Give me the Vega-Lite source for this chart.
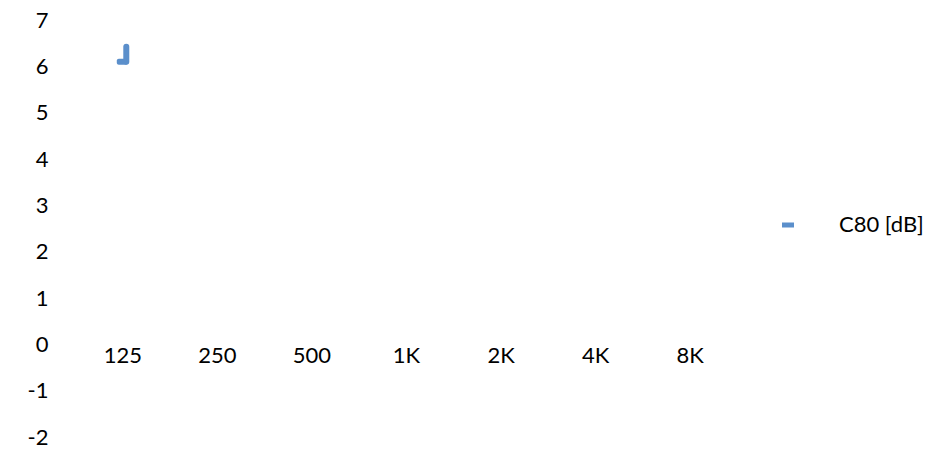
{
  "$schema": "https://vega.github.io/schema/vega-lite/v6.json",
  "width": 662,
  "height": 417,
  "autosize": {"type": "none"},
  "padding": {"left": 75, "top": 20, "right": 200, "bottom": 17},
  "background": "white",
  "config": {
    "view": {"stroke": null},
    "font": "Lato",
    "axis": {"labelFont": "Lato", "labelFontSize": 22, "labelColor": "#000000", "domain": false, "ticks": false, "grid": false, "title": null}
  },
  "data": {"values": [{"freq": "125", "c80": 6.1, "c80_top": 6.42, "series": "C80 [dB]"}]},
  "layer": [
    {
      "mark": {"type": "rule", "strokeWidth": 6, "color": "#5B8FCB", "opacity": 1, "xOffset": 4, "strokeCap": "round"},
      "encoding": {
        "x": {"field": "freq", "type": "nominal", "scale": {"type": "point", "padding": 0.5, "domain": ["125", "250", "500", "1K", "2K", "4K", "8K"]},
          "axis": {"labelAngle": 0, "offset": -92, "labelPadding": 0, "labelBaseline": "top"}},
        "y": {"field": "c80", "type": "quantitative", "scale": {"domain": [-2, 7], "nice": false, "zero": false},
          "axis": {"values": [-2, -1, 0, 1, 2, 3, 4, 5, 6, 7], "labelExpr": "'' + datum.value", "labelPadding": 27, "labelBaseline": "middle"}},
        "y2": {"field": "c80_top"}
      }
    },
    {
      "mark": {"type": "tick", "thickness": 6, "size": 11, "orient": "horizontal", "cornerRadius": 2, "opacity": 1},
      "encoding": {
        "x": {"field": "freq", "type": "nominal"},
        "y": {"field": "c80", "type": "quantitative"},
        "color": {"field": "series", "type": "nominal", "scale": {"range": ["#5B8FCB"]},
          "legend": {"title": null, "orient": "none", "legendX": 702, "legendY": 194, "symbolType": "stroke", "symbolStrokeColor": "#5B8FCB", "symbolFillColor": "#5B8FCB", "symbolOpacity": 1, "symbolStrokeWidth": 5, "symbolSize": 144, "labelOffset": 40, "labelFontSize": 22, "labelFont": "Lato", "labelColor": "#000000"}}
      }
    }
  ]
}
